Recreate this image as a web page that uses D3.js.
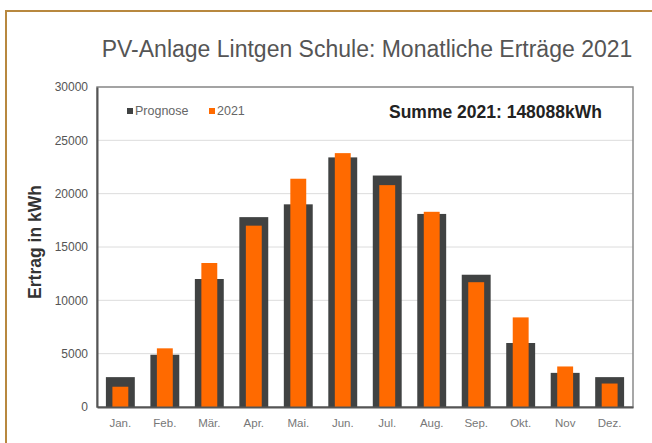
<!DOCTYPE html>
<html>
<head>
<meta charset="utf-8">
<script src="https://cdn.jsdelivr.net/npm/d3@7"></script>
<style>
  body { margin: 0; background: #fff; }
  text { font-family: "Liberation Sans", Arial, sans-serif; }
</style>
</head>
<body>
<div id="chart"></div>
<script>
// data
const months = ["Jan.", "Feb.", "Mär.", "Apr.", "Mai.", "Jun.", "Jul.", "Aug.", "Sep.", "Okt.", "Nov", "Dez."];
const prognose = [2800, 4900, 12000, 17800, 19000, 23400, 21700, 18100, 12400, 6000, 3200, 2800];
const ertrag2021 = [1900, 5500, 13500, 17000, 21400, 23800, 20800, 18300, 11700, 8400, 3800, 2200];
const yTicks = [0, 5000, 10000, 15000, 20000, 25000, 30000];

const W = 652, H = 443;
const margin = {top: 87, right: 19, bottom: 36, left: 97},
      width = W - margin.left - margin.right,
      height = H - margin.top - margin.bottom;

const svg = d3.select("#chart")
  .append("svg")
    .attr("width", W)
    .attr("height", H);

// outer frame
svg.append("rect")
  .attr("x", 6).attr("y", 11)
  .attr("width", W + 10).attr("height", H + 10)
  .attr("fill", "none")
  .attr("stroke", "#b8883f")
  .attr("stroke-width", 2);

// title
svg.append("text")
  .attr("x", 367).attr("y", 57)
  .attr("text-anchor", "middle")
  .attr("font-size", 23)
  .attr("fill", "#555")
  .text("PV-Anlage Lintgen Schule: Monatliche Erträge 2021");

const g = svg.append("g")
  .attr("transform", `translate(${margin.left},${margin.top})`);

const x = d3.scaleBand()
  .domain(months)
  .range([0, width])
  .paddingInner(0.35)
  .paddingOuter(0.2);

const y = d3.scaleLinear()
  .domain([0, 30000])
  .range([height, 0]);

// gridlines
g.append("g")
  .selectAll("line")
  .data(yTicks.slice(1))
  .join("line")
    .attr("x1", 0).attr("x2", width)
    .attr("y1", d => y(d)).attr("y2", d => y(d))
    .attr("stroke", "#dcdcdc")
    .attr("stroke-width", 1);

// plot frame (top and right)
g.append("rect")
  .attr("width", width).attr("height", height)
  .attr("fill", "none")
  .attr("stroke", "#8a8a8a")
  .attr("stroke-width", 1.5);

// Prognose bars
g.selectAll(".prog")
  .data(prognose)
  .join("rect")
    .attr("x", (d, i) => x(months[i]))
    .attr("y", d => y(d))
    .attr("width", x.bandwidth())
    .attr("height", d => height - y(d))
    .attr("fill", "#404242");

// 2021 bars, narrower, drawn on top
const inner = x.bandwidth() * 0.55;
g.selectAll(".act")
  .data(ertrag2021)
  .join("rect")
    .attr("x", (d, i) => x(months[i]) + (x.bandwidth() - inner) / 2)
    .attr("y", d => y(d))
    .attr("width", inner)
    .attr("height", d => height - y(d))
    .attr("fill", "#ff6a00");

// Y axis
const yAxis = g.append("g")
  .call(d3.axisLeft(y).tickValues(yTicks).tickFormat(d3.format("d")).tickSize(0).tickPadding(9));
yAxis.select(".domain").attr("stroke", "#555").attr("stroke-width", 2);
yAxis.selectAll("text")
  .attr("font-size", 12)
  .attr("font-family", "Liberation Sans, Arial, sans-serif")
  .attr("fill", "#555");

// X axis
const xAxis = g.append("g")
  .attr("transform", `translate(0,${height})`)
  .call(d3.axisBottom(x).tickSize(0).tickPadding(12));
xAxis.select(".domain").attr("stroke", "#555").attr("stroke-width", 2);
xAxis.selectAll("text")
  .attr("font-size", 11.5)
  .attr("font-family", "Liberation Sans, Arial, sans-serif")
  .attr("fill", "#777");

// Y axis title
svg.append("text")
  .attr("transform", "translate(41,242) rotate(-90)")
  .attr("text-anchor", "middle")
  .attr("font-size", 17.5)
  .attr("font-weight", "bold")
  .attr("fill", "#333")
  .text("Ertrag in kWh");

// legend
const legend = [{name: "Prognose", color: "#404242", x: 127}, {name: "2021", color: "#ff6a00", x: 209}];
legend.forEach(l => {
  svg.append("rect")
    .attr("x", l.x).attr("y", 108)
    .attr("width", 6).attr("height", 6)
    .attr("fill", l.color);
  svg.append("text")
    .attr("x", l.x + 8).attr("y", 115)
    .attr("font-size", 12.5)
    .attr("fill", "#666")
    .text(l.name);
});

svg.append("text")
  .attr("x", 602).attr("y", 118)
  .attr("text-anchor", "end")
  .attr("font-size", 17.5)
  .attr("font-weight", "bold")
  .attr("fill", "#222")
  .text("Summe 2021: 148088kWh");
</script>
</body>
</html>
